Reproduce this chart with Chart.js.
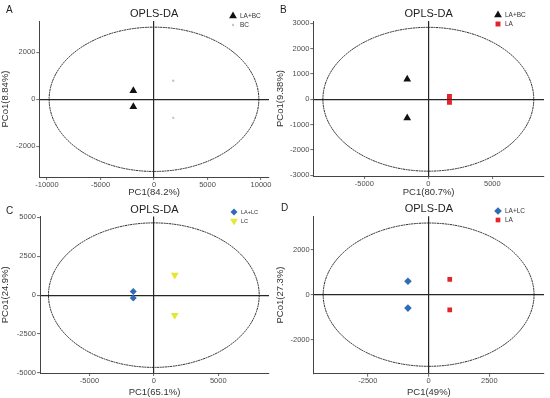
<!DOCTYPE html>
<html>
<head>
<meta charset="utf-8">
<script src="https://cdn.jsdelivr.net/npm/chart.js@4.4.0/dist/chart.umd.min.js"></script>
<style>
  html, body { margin: 0; padding: 0; background: #fff; }
  #wrap { position: relative; width: 550px; height: 398px; }
  canvas { position: absolute; }
</style>
</head>
<body>
<div id="wrap">
  <canvas id="chart-a" width="275" height="198" style="left:0;top:0"></canvas>
  <canvas id="chart-b" width="275" height="198" style="left:275px;top:0"></canvas>
  <canvas id="chart-c" width="275" height="200" style="left:0;top:198px"></canvas>
  <canvas id="chart-d" width="275" height="200" style="left:275px;top:198px"></canvas>
</div>
<script>
// Panel text
const panelLetters = ['A', 'B', 'C', 'D'];
const xTitles = ['PC1(84.2%)', 'PC1(80.7%)', 'PC1(65.1%)', 'PC1(49%)'];
const yTitles = ['PCo1(8.84%)', 'PCo1(9.38%)', 'PCo1(24.9%)', 'PCo1(27.3%)'];

// Tick values
const xTicksA = [-10000, -5000, 0, 5000, 10000];
const yTicksA = [-2000, 0, 2000];
const xTicksB = [-5000, 0, 5000];
const yTicksB = [-3000, -2000, -1000, 0, 1000, 2000, 3000];
const xTicksC = [-5000, 0, 5000];
const yTicksC = [-5000, -2500, 0, 2500, 5000];
const xTicksD = [-2500, 0, 2500];
const yTicksD = [-2000, 0, 2000];

// Axis ranges
const xRangeA = [-10720, 10750];
const yRangeA = [-3306, 3332];
const xRangeB = [-8990, 9040];
const yRangeB = [-3030, 3090];
const xRangeC = [-8840, 8940];
const yRangeC = [-5000, 5050];
const xRangeD = [-4730, 4750];
const yRangeD = [-3530, 3500];

// Confidence ellipse semi-axes (x, y)
const ellipseA = [9800, 3070];
const ellipseB = [8240, 2840];
const ellipseC = [8180, 4640];
const ellipseD = [4340, 3200];

// Groups and scores
const groupsA = ['LA+BC', 'BC'];
const laBcAX = [-1930, -1930];
const laBcAY = [360, -320];
const bcAX = [1800, 1800];
const bcAY = [790, -790];

const groupsB = ['LA+BC', 'LA'];
const laBcBX = [-1650, -1650];
const laBcBY = [790, -740];
const laBX = [1650, 1650];
const laBY = [110, -120];

const groupsC = ['LA+LC', 'LC'];
const laLcCX = [-1600, -1600];
const laLcCY = [230, -190];
const lcCX = [1620, 1620];
const lcCY = [1290, -1290];

const groupsD = ['LA+LC', 'LA'];
const laLcDX = [-850, -850];
const laLcDY = [600, -600];
const laDX = [870, 870];
const laDY = [680, -680];

const FONT = "'Liberation Sans', Arial, sans-serif";
const COLORS = {
  black: '#111111',
  grey: '#c4c4c4',
  red: '#e3242b',
  blue: '#2f6cb3',
  yellow: '#e6e636'
};

function toPoints(xs, ys) {
  return xs.map((x, i) => ({ x: x, y: ys[i] }));
}

function series(label, xs, ys, color, style, radius, rotation) {
  return {
    label: label,
    data: toPoints(xs, ys),
    backgroundColor: color,
    borderColor: color,
    borderWidth: 0,
    pointStyle: style,
    pointRadius: radius,
    pointHoverRadius: radius,
    rotation: rotation || 0
  };
}

// Ellipse, title, panel letter and legend
const decorPlugin = {
  id: 'decor',
  beforeDatasetsDraw(chart, args, opts) {
    const ctx = chart.ctx;
    const xs = chart.scales.x, ys = chart.scales.y;
    const cx = xs.getPixelForValue(0);
    const cy = ys.getPixelForValue(0);
    const rx = Math.abs(xs.getPixelForValue(opts.ellipse[0]) - cx);
    const ry = Math.abs(ys.getPixelForValue(opts.ellipse[1]) - cy);
    ctx.save();
    ctx.beginPath();
    ctx.setLineDash([2, 0.6]);
    ctx.strokeStyle = '#262626';
    ctx.lineWidth = 1;
    ctx.ellipse(cx, cy, rx, ry, 0, 0, Math.PI * 2);
    ctx.stroke();
    ctx.restore();
  },
  afterDraw(chart, args, opts) {
    const ctx = chart.ctx;
    const area = chart.chartArea;
    ctx.save();
    ctx.fillStyle = '#222';
    ctx.textBaseline = 'middle';
    ctx.textAlign = 'center';
    ctx.font = '11px ' + FONT;
    ctx.fillText('OPLS-DA', (area.left + area.right) / 2, area.top - 7);
    ctx.textAlign = 'left';
    ctx.font = '10px ' + FONT;
    ctx.fillText(opts.letter, opts.letterPos[0], opts.letterPos[1]);

    // legend
    chart.data.datasets.forEach((ds, i) => {
      const lx = opts.legendPos[0];
      const ly = opts.legendPos[1] + i * 9;
      ctx.fillStyle = ds.backgroundColor;
      Chart.helpers.drawPoint(ctx, {
        pointStyle: ds.pointStyle,
        radius: ds.pointRadius,
        rotation: ds.rotation,
        borderWidth: 0
      }, lx, ly);
      ctx.fillStyle = '#333';
      ctx.font = opts.legendFont + 'px ' + FONT;
      ctx.fillText(ds.label, lx + 7, ly);
    });
    ctx.restore();
  }
};

function makeChart(id, cfg) {
  const canvas = document.getElementById(id);
  const tickFont = { size: 7.5, family: FONT };
  const gridOpts = {
    color: c => (c.tick && c.tick.value === 0) ? '#262626' : 'rgba(0,0,0,0)',
    lineWidth: 1.2,
    tickColor: '#444',
    tickWidth: 0.8,
    tickLength: 3,
    drawTicks: true
  };
  return new Chart(canvas, {
    type: 'scatter',
    data: { datasets: cfg.datasets },
    options: {
      responsive: false,
      animation: false,
      devicePixelRatio: 1,
      layout: {
        padding: { top: cfg.top, right: canvas.width - 269, left: 0, bottom: 0 }
      },
      plugins: {
        legend: { display: false },
        tooltip: { enabled: false },
        decor: {
          ellipse: cfg.ellipse,
          letter: cfg.letter,
          letterPos: cfg.letterPos,
          legendPos: cfg.legendPos,
          legendFont: cfg.legendFont
        }
      },
      scales: {
        x: {
          type: 'linear',
          min: cfg.xRange[0],
          max: cfg.xRange[1],
          afterBuildTicks: s => { s.ticks = cfg.xTicks.map(v => ({ value: v })); },
          afterFit: s => { s.height = canvas.height - cfg.bottom; },
          grid: gridOpts,
          border: { display: true, color: '#444', width: 1 },
          ticks: {
            color: '#4d4d4d',
            font: tickFont,
            padding: 0,
            maxRotation: 0,
            autoSkip: false,
            callback: v => String(v)
          },
          title: {
            display: true,
            text: cfg.xTitle,
            color: '#333',
            font: { size: 9.5, family: FONT },
            padding: 0
          }
        },
        y: {
          type: 'linear',
          min: cfg.yRange[0],
          max: cfg.yRange[1],
          afterBuildTicks: s => { s.ticks = cfg.yTicks.map(v => ({ value: v })); },
          afterFit: s => { s.width = cfg.left; },
          grid: gridOpts,
          border: { display: true, color: '#444', width: 1 },
          ticks: {
            color: '#4d4d4d',
            font: tickFont,
            padding: 1,
            autoSkip: false,
            callback: v => String(v)
          },
          title: {
            display: true,
            text: cfg.yTitle,
            color: '#333',
            font: { size: 9.5, family: FONT },
            padding: 0
          }
        }
      }
    },
    plugins: [decorPlugin]
  });
}

makeChart('chart-a', {
  letter: panelLetters[0], letterPos: [6, 10],
  legendPos: [233, 16], legendFont: 6.5,
  xTitle: xTitles[0], yTitle: yTitles[0],
  xTicks: xTicksA, yTicks: yTicksA, xRange: xRangeA, yRange: yRangeA,
  ellipse: ellipseA, top: 21, bottom: 177, left: 39.3,
  datasets: [
    series(groupsA[0], laBcAX, laBcAY, COLORS.black, 'triangle', 4.5),
    series(groupsA[1], bcAX, bcAY, COLORS.grey, 'circle', 1.2)
  ]
});

makeChart('chart-b', {
  letter: panelLetters[1], letterPos: [5, 10],
  legendPos: [223, 15], legendFont: 6.5,
  xTitle: xTitles[1], yTitle: yTitles[1],
  xTicks: xTicksB, yTicks: yTicksB, xRange: xRangeB, yRange: yRangeB,
  ellipse: ellipseB, top: 21, bottom: 176, left: 38.3,
  datasets: [
    series(groupsB[0], laBcBX, laBcBY, COLORS.black, 'triangle', 4.5),
    series(groupsB[1], laBX, laBY, COLORS.red, 'rect', 3.5)
  ]
});

makeChart('chart-c', {
  letter: panelLetters[2], letterPos: [6, 13],
  legendPos: [234, 14], legendFont: 5.5,
  xTitle: xTitles[2], yTitle: yTitles[2],
  xTicks: xTicksC, yTicks: yTicksC, xRange: xRangeC, yRange: yRangeC,
  ellipse: ellipseC, top: 18.5, bottom: 175, left: 40,
  datasets: [
    series(groupsC[0], laLcCX, laLcCY, COLORS.blue, 'rectRot', 3.5),
    series(groupsC[1], lcCX, lcCY, COLORS.yellow, 'triangle', 4.5, 180)
  ]
});

makeChart('chart-d', {
  letter: panelLetters[3], letterPos: [6, 10],
  legendPos: [223, 13], legendFont: 6.5,
  xTitle: xTitles[3], yTitle: yTitles[3],
  xTicks: xTicksD, yTicks: yTicksD, xRange: xRangeD, yRange: yRangeD,
  ellipse: ellipseD, top: 18.3, bottom: 175.7, left: 38.7,
  datasets: [
    series(groupsD[0], laLcDX, laLcDY, COLORS.blue, 'rectRot', 3.8),
    series(groupsD[1], laDX, laDY, COLORS.red, 'rect', 3.3)
  ]
});
</script>
</body>
</html>
